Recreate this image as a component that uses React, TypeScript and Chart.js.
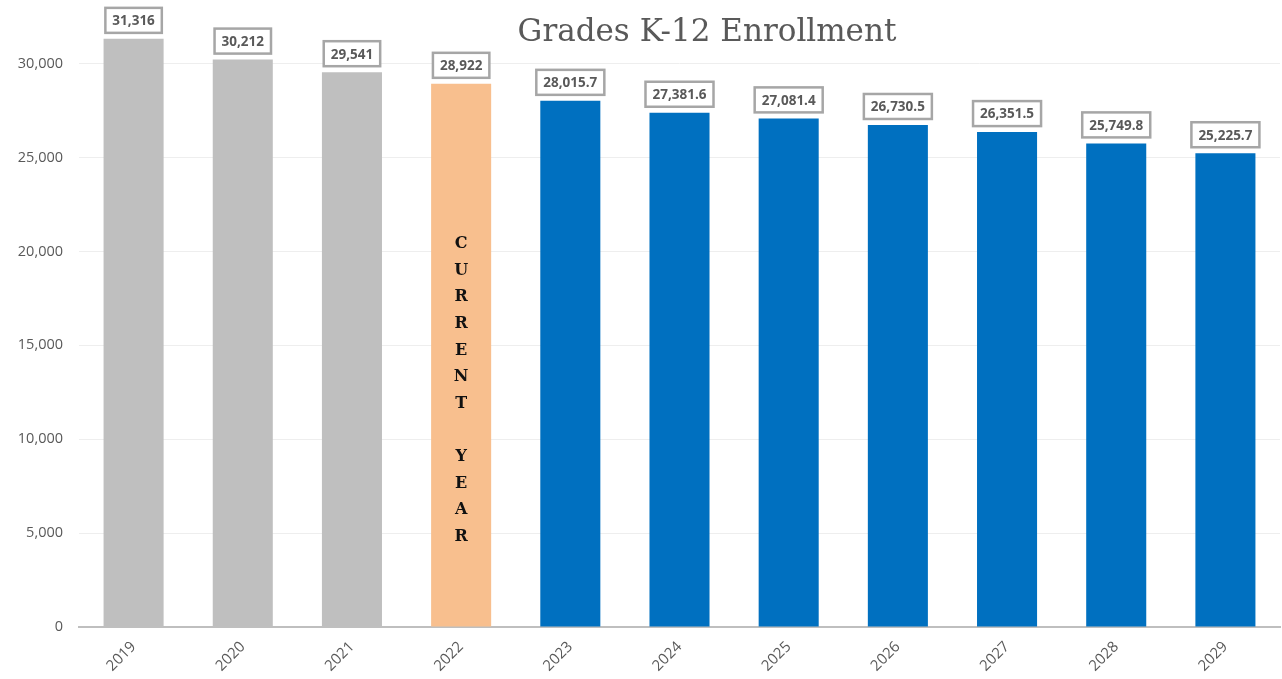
import React, { useEffect, useRef } from "react";
import { Chart, registerables } from "chart.js";

Chart.register(...registerables);

const categories = ["2019", "2020", "2021", "2022", "2023", "2024", "2025", "2026", "2027", "2028", "2029"];
const enrollment = [31316, 30212, 29541, 28922, 28015.7, 27381.6, 27081.4, 26730.5, 26351.5, 25749.8, 25225.7];
const valueLabels = ["31,316", "30,212", "29,541", "28,922", "28,015.7", "27,381.6", "27,081.4", "26,730.5", "26,351.5", "25,749.8", "25,225.7"];
const barColors = ["#BFBFBF", "#BFBFBF", "#BFBFBF", "#F8BF8E", "#0070C0", "#0070C0", "#0070C0", "#0070C0", "#0070C0", "#0070C0", "#0070C0"];
const yTicks = [0, 5000, 10000, 15000, 20000, 25000, 30000];
const titleText = "Grades K-12 Enrollment";
const currentYearIndex = 3;
const currentYearText = "CURRENT YEAR";

const overlayPlugin = {
  id: "overlay",
  afterDatasetsDraw(chart: any) {
    const ctx = chart.ctx;
    const meta = chart.getDatasetMeta(0);
    ctx.save();
    // value label boxes
    ctx.font = "bold 13.5px 'Open Sans', sans-serif";
    ctx.textAlign = "center";
    ctx.textBaseline = "middle";
    meta.data.forEach((bar: any, i: number) => {
      const txt = valueLabels[i];
      const w = ctx.measureText(txt).width + 14;
      const h = 25;
      const cx = bar.x;
      const bottom = bar.y - 6;
      ctx.fillStyle = "#FFFFFF";
      ctx.fillRect(cx - w / 2, bottom - h, w, h);
      ctx.strokeStyle = "#A6A6A6";
      ctx.lineWidth = 2.5;
      ctx.strokeRect(cx - w / 2, bottom - h, w, h);
      ctx.fillStyle = "#595959";
      ctx.fillText(txt, cx, bottom - h / 2 + 1);
    });
    // current year vertical text
    const bar = meta.data[currentYearIndex];
    ctx.font = "bold 16px 'DejaVu Serif', serif";
    ctx.fillStyle = "#111111";
    const chars = currentYearText.split("");
    const startY = 244;
    const step = 26.6;
    chars.forEach((c, k) => {
      ctx.fillText(c, bar.x, startY + k * step);
    });
    // title
    ctx.font = "31px 'DejaVu Serif', serif";
    ctx.fillStyle = "#595959";
    ctx.fillText(titleText, 707, 33);
    ctx.restore();
  },
};

export default function App() {
  const ref = useRef<HTMLCanvasElement>(null);
  useEffect(() => {
    const chart = new Chart(ref.current as HTMLCanvasElement, {
      type: "bar",
      data: {
        labels: categories,
        datasets: [
          {
            data: enrollment,
            backgroundColor: barColors,
            barPercentage: 0.55,
            categoryPercentage: 1,
          },
        ],
      },
      plugins: [overlayPlugin],
      options: {
        animation: false,
        responsive: false,
        layout: { padding: { top: 5, left: 0, right: 2, bottom: 0 } },
        plugins: { legend: { display: false }, title: { display: false }, tooltip: { enabled: false } },
        scales: {
          x: {
            grid: { display: false, drawTicks: false },
            border: { color: "#BFBFBF", width: 2 },
            ticks: {
              color: "#595959",
              font: { family: "'Open Sans', sans-serif", size: 15 },
              minRotation: 45,
              maxRotation: 45,
              padding: 11,
            },
            afterFit(scale: any) {
              scale.height = 52;
            },
          },
          y: {
            min: 0,
            max: 32070,
            grid: { color: "#EEEEEE", lineWidth: 1, drawTicks: false },
            border: { display: false },
            afterBuildTicks(scale: any) {
              scale.ticks = yTicks.map((v) => ({ value: v }));
            },
            ticks: {
              color: "#595959",
              font: { family: "'Open Sans', sans-serif", size: 14.5 },
              padding: 16,
              callback: (v: any) => Number(v).toLocaleString("en-US"),
            },
            afterFit(scale: any) {
              scale.width = 79;
            },
          },
        },
      },
    });
    return () => chart.destroy();
  }, []);
  return (
    <div style={{ position: "fixed", left: 0, top: 0, width: 1282, height: 679, background: "#fff" }}>
      <canvas ref={ref} width={1282} height={679} />
    </div>
  );
}
